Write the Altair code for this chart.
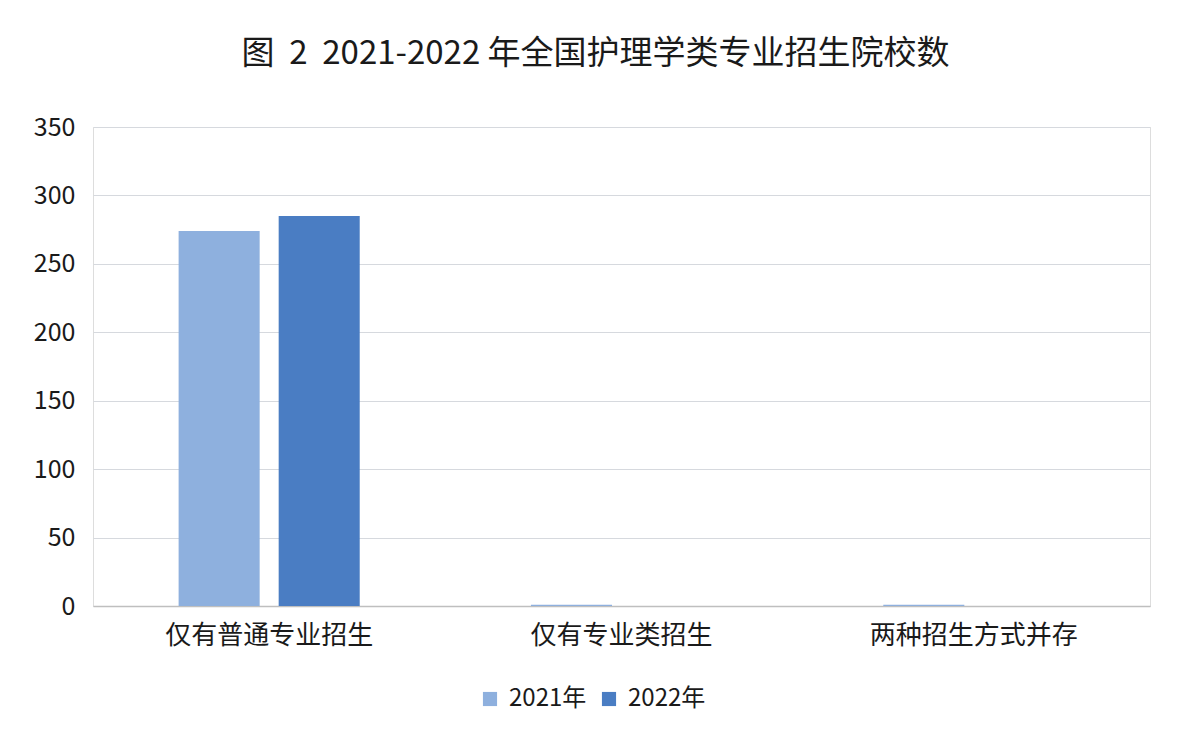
import altair as alt
import pandas as pd

categories = ["仅有普通专业招生", "仅有专业类招生", "两种招生方式并存"]
years = ["2021年", "2022年"]
values_2021 = [274, 1, 1]
values_2022 = [285, 0, 0]
colors = ["#8EB0DE", "#4A7DC3"]

rows = []
for i, c in enumerate(categories):
    rows.append({"类别": c, "年份": years[0], "数量": values_2021[i]})
    rows.append({"类别": c, "年份": years[1], "数量": values_2022[i]})
df = pd.DataFrame(rows)

font = "Noto Sans CJK SC"
title_text = "图\u00a0\u00a02\u00a0\u00a02021-2022\u00a0年全国护理学类专业招生院校数"

chart = alt.Chart(df).mark_bar().encode(
    x=alt.X("类别:N", sort=categories, title=None,
            scale=alt.Scale(paddingInner=0.486, paddingOuter=0.243),
            axis=alt.Axis(labelAngle=0, labelFontSize=26, labelColor="#1a1a1a",
                          labelFont=font, ticks=False, domainColor="#BFBFBF",
                          domainWidth=1.5, labelPadding=16, labelLimit=500)),
    xOffset=alt.XOffset("年份:N", sort=years,
                        scale=alt.Scale(paddingInner=0.19, paddingOuter=0)),
    y=alt.Y("数量:Q", title=None,
            scale=alt.Scale(domain=[0, 350]),
            axis=alt.Axis(values=[0, 50, 100, 150, 200, 250, 300, 350],
                          labelFontSize=25, labelColor="#1a1a1a", labelFont=font,
                          domain=False, ticks=False, gridColor="#D6D9DE",
                          gridWidth=1.2, labelPadding=18)),
    color=alt.Color("年份:N", sort=years,
                    scale=alt.Scale(domain=years, range=colors),
                    legend=alt.Legend(title=None, orient="none",
                                      legendX=385, legendY=560, direction="horizontal",
                                      symbolType="square", symbolSize=200,
                                      symbolStrokeWidth=0, labelFontSize=24,
                                      labelFont=font, labelColor="#1a1a1a",
                                      columnPadding=10, labelOffset=7)),
).properties(
    width=1057,
    height=479,
    title=alt.TitleParams(title_text,
                          fontSize=33, font=font, fontWeight="normal",
                          color="#1a1a1a", anchor="middle", dx=-26, offset=44),
    padding={"left": 85, "top": 119, "right": 42, "bottom": 142},
    autosize=alt.AutoSizeParams(type="none"),
).configure_view(stroke=None).configure(background="#FFFFFF")

chart.save("out.html", embed_options={"renderer": "svg", "actions": False})
